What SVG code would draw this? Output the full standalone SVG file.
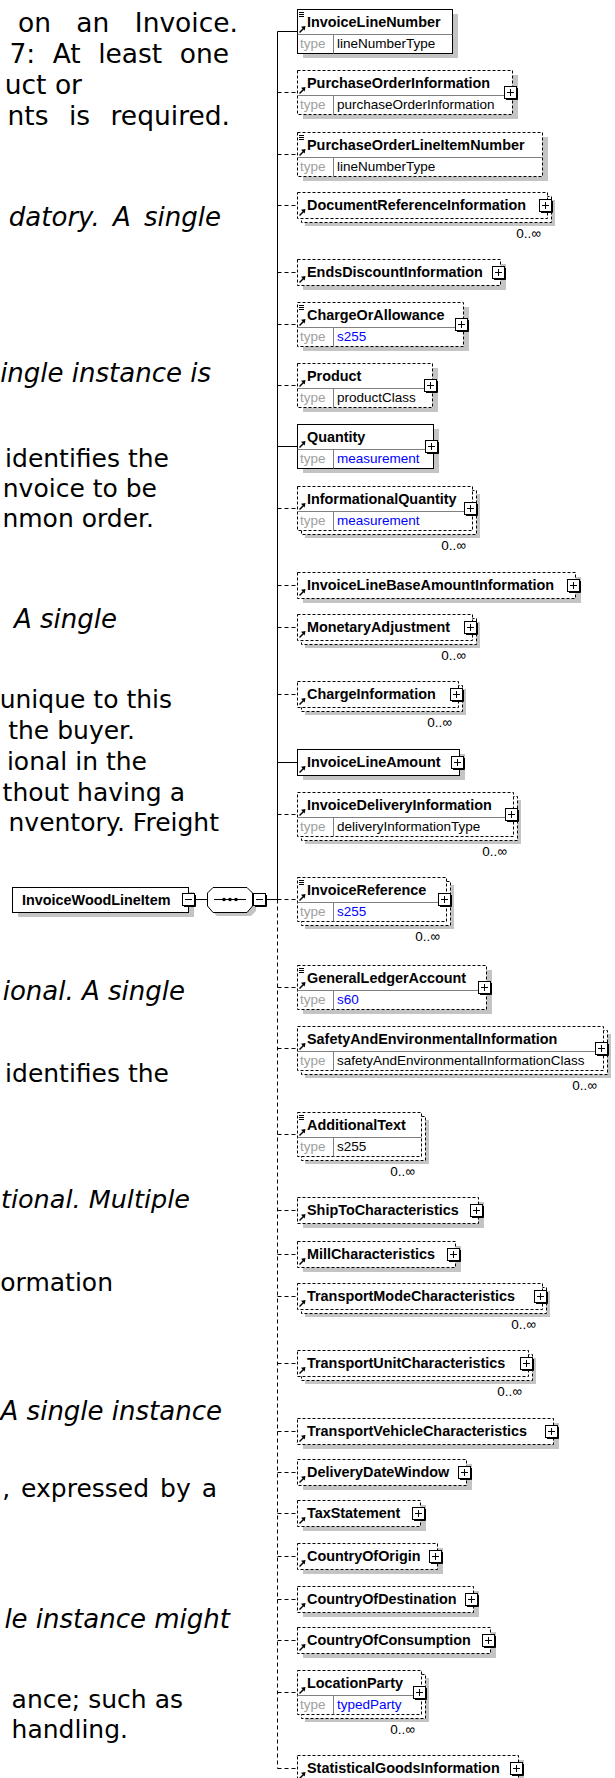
<svg xmlns="http://www.w3.org/2000/svg" width="615" height="1778" viewBox="0 0 615 1778">
<style>
.b{fill:#fff;stroke:#000;stroke-width:1}
.d{stroke-dasharray:3,2}
.sh{fill:#c4c4c4}
.sp{fill:none;stroke:#808080;stroke-width:1}
.nm{font-family:"Liberation Sans",Arial,sans-serif;font-weight:bold;font-size:14.4px;fill:#000}
.tl{font-family:"Liberation Sans",Arial,sans-serif;font-size:13.5px;fill:#a0a0a0}
.tv{font-family:"Liberation Sans",Arial,sans-serif;font-size:13.5px;fill:#000}
.tb{fill:#0000ff}
.oc{font-family:"Liberation Sans",Arial,sans-serif;font-size:13.5px;fill:#000;text-anchor:end}
.dt{font-family:"DejaVu Sans",Verdana,sans-serif;font-size:25px;fill:#000;text-anchor:end}
.big{font-size:26.5px}
.it{font-style:italic;font-size:26px}
.cs{fill:none;stroke:#000;stroke-width:1}
.cd{fill:none;stroke:#000;stroke-width:1;stroke-dasharray:4,3}
</style>
<defs>
<g id="arr"><path d="M0.5,6.5L5,2" stroke="#000" stroke-width="1.5"/><path d="M6.5,0L2,0.8L5.7,4.5Z" fill="#000"/></g>
<g id="eq"><path d="M0,0.5H5M0,2.5H5M0,4.5H5" stroke="#000" stroke-width="1"/></g>
<g id="plus"><path d="M2,13.5H13.5V2" fill="none" stroke="#000"/><rect x="0.5" y="0.5" width="12" height="12" fill="#fff" stroke="#000"/><path d="M3,6.5H10M6.5,3V10" stroke="#000"/></g>
<g id="minus"><path d="M2,13.5H13.5V2" fill="none" stroke="#000"/><rect x="0.5" y="0.5" width="12" height="12" fill="#fff" stroke="#000"/><path d="M3,6.5H10" stroke="#000"/></g>
</defs>
<rect width="615" height="1778" fill="#fff"/>

<g id="text">
<text class="dt big" x="238" y="32" word-spacing="17">on an Invoice.</text>
<text class="dt big" x="229" y="63" word-spacing="9">7: At least one</text>
<text class="dt big" x="82" y="94">uct or</text>
<text class="dt big" x="230" y="125" word-spacing="12">nts is required.</text>
<text class="dt it" x="221" y="226" word-spacing="5">datory. A single</text>
<text class="dt it" x="211" y="382">ingle instance is</text>
<text class="dt" x="169" y="467">identifies the</text>
<text class="dt" x="157" y="497">nvoice to be</text>
<text class="dt" x="154" y="527">nmon order.</text>
<text class="dt it" x="117" y="628">A single</text>
<text class="dt" x="172" y="708">unique to this</text>
<text class="dt" x="135" y="739">the buyer.</text>
<text class="dt" x="147" y="770">ional in the</text>
<text class="dt" x="185" y="801">thout having a</text>
<text class="dt" x="219" y="831">nventory. Freight</text>
<text class="dt it" x="185" y="1000">ional. A single</text>
<text class="dt" x="169" y="1082">identifies the</text>
<text class="dt it" x="190" y="1208" style="font-size:25.5px">tional. Multiple</text>
<text class="dt" x="113" y="1291">ormation</text>
<text class="dt it" x="222" y="1420">A single instance</text>
<text class="dt" x="217" y="1497" word-spacing="3">, expressed by a</text>
<text class="dt it" x="230" y="1628">le instance might</text>
<text class="dt" x="183" y="1708">ance; such as</text>
<text class="dt" x="128" y="1738">handling.</text>
</g>

<g id="connectors">
<path class="cs" d="M277.5,31.5V899.5"/>
<path class="cd" d="M277.5,899.5V1768.5"/>
<path class="cs" d="M277.5,31.5H297M277.5,446.5H297M277.5,762.5H297M195,899.5H207.5M266,899.5H277.5"/>
<path class="cd" d="M277.5,92.5H297M277.5,154.5H297M277.5,205.5H297M277.5,272.5H297M277.5,324.5H297M277.5,385.5H297M277.5,508.5H297M277.5,585.5H297M277.5,627.5H297M277.5,694.5H297M277.5,814.5H297M277.5,899.5H297M277.5,987.5H297M277.5,1048.5H297M277.5,1134.5H297M277.5,1210.5H297M277.5,1254.5H297M277.5,1296.5H297M277.5,1363.5H297M277.5,1431.5H297M277.5,1472.5H297M277.5,1513.5H297M277.5,1556.5H297M277.5,1599.5H297M277.5,1640.5H297M277.5,1692.5H297M277.5,1768.5H297"/>
</g>

<g id="InvoiceWoodLineItem">
<rect class="sh" x="18" y="892" width="176" height="25"/>
<rect class="b" x="12.5" y="887.5" width="176" height="25"/>
<text class="nm" x="22" y="905">InvoiceWoodLineItem</text>
<use href="#minus" x="182" y="893"/>
</g>

<g id="sequence">
<path class="sh" d="M217,891H251L256,896V911L251,916H217L212,911V896Z"/>
<path class="b" d="M213,887.5H247L252.5,893V906L247,912.5H213L207.5,906V893Z"/>
<path d="M214,899.5H246" stroke="#000"/>
<circle cx="224" cy="899.5" r="1.8"/><circle cx="230" cy="899.5" r="1.8"/><circle cx="236" cy="899.5" r="1.8"/>
<use href="#minus" x="253" y="893"/>
</g>

<g id="n1">
<rect class="sh" x="303" y="14" width="155" height="44"/>
<rect class="b" x="297.5" y="9.5" width="155" height="44"/>
<path class="sp" d="M297.5,34.5H452.5M333.5,34.5V53.5"/>
<use href="#eq" x="299" y="12"/><use href="#arr" x="299" y="26"/>
<text class="nm" x="307" y="27">InvoiceLineNumber</text>
<text class="tl" x="300" y="48">type</text><text class="tv" x="337" y="48">lineNumberType</text>
</g>

<g id="n2">
<rect class="sh" x="303" y="75" width="215" height="44"/>
<rect class="b d" x="297.5" y="70.5" width="215" height="44"/>
<path class="sp" d="M297.5,95.5H512.5M333.5,95.5V114.5"/>
<use href="#arr" x="299" y="87"/>
<text class="nm" x="307" y="88">PurchaseOrderInformation</text>
<text class="tl" x="300" y="109">type</text><text class="tv" x="337" y="109">purchaseOrderInformation</text>
<use href="#plus" x="504" y="86"/>
</g>

<g id="n3">
<rect class="sh" x="303" y="137" width="245" height="44"/>
<rect class="b d" x="297.5" y="132.5" width="245" height="44"/>
<path class="sp" d="M297.5,157.5H542.5M333.5,157.5V176.5"/>
<use href="#eq" x="299" y="135"/><use href="#arr" x="299" y="149"/>
<text class="nm" x="307" y="150">PurchaseOrderLineItemNumber</text>
<text class="tl" x="300" y="171">type</text><text class="tv" x="337" y="171">lineNumberType</text>
</g>

<g id="n4">
<rect class="sh" x="305" y="200" width="250" height="26"/>
<rect class="b d" x="301.5" y="196.5" width="250" height="26"/>
<rect class="b d" x="297.5" y="192.5" width="250" height="26"/>
<use href="#arr" x="299" y="209"/>
<text class="nm" x="307" y="210">DocumentReferenceInformation</text>
<use href="#plus" x="539" y="199"/>
<text class="oc" x="541" y="238">0..∞</text>
</g>

<g id="n5">
<rect class="sh" x="303" y="264" width="203" height="26"/>
<rect class="b d" x="297.5" y="259.5" width="203" height="26"/>
<use href="#arr" x="299" y="276"/>
<text class="nm" x="307" y="277">EndsDiscountInformation</text>
<use href="#plus" x="492" y="266"/>
</g>

<g id="n6">
<rect class="sh" x="303" y="307" width="166" height="44"/>
<rect class="b d" x="297.5" y="302.5" width="166" height="44"/>
<path class="sp" d="M297.5,327.5H463.5M333.5,327.5V346.5"/>
<use href="#eq" x="299" y="305"/><use href="#arr" x="299" y="319"/>
<text class="nm" x="307" y="320">ChargeOrAllowance</text>
<text class="tl" x="300" y="341">type</text><text class="tv tb" x="337" y="341">s255</text>
<use href="#plus" x="455" y="318"/>
</g>

<g id="n7">
<rect class="sh" x="303" y="368" width="135" height="44"/>
<rect class="b d" x="297.5" y="363.5" width="135" height="44"/>
<path class="sp" d="M297.5,388.5H432.5M333.5,388.5V407.5"/>
<use href="#arr" x="299" y="380"/>
<text class="nm" x="307" y="381">Product</text>
<text class="tl" x="300" y="402">type</text><text class="tv" x="337" y="402">productClass</text>
<use href="#plus" x="424" y="379"/>
</g>

<g id="n8">
<rect class="sh" x="303" y="429" width="136" height="44"/>
<rect class="b" x="297.5" y="424.5" width="136" height="44"/>
<path class="sp" d="M297.5,449.5H433.5M333.5,449.5V468.5"/>
<use href="#arr" x="299" y="441"/>
<text class="nm" x="307" y="442">Quantity</text>
<text class="tl" x="300" y="463">type</text><text class="tv tb" x="337" y="463">measurement</text>
<use href="#plus" x="425" y="440"/>
</g>

<g id="n9">
<rect class="sh" x="305" y="494" width="175" height="44"/>
<rect class="b d" x="301.5" y="490.5" width="175" height="44"/>
<rect class="b d" x="297.5" y="486.5" width="175" height="44"/>
<path class="sp" d="M297.5,511.5H472.5M333.5,511.5V530.5"/>
<use href="#arr" x="299" y="503"/>
<text class="nm" x="307" y="504">InformationalQuantity</text>
<text class="tl" x="300" y="525">type</text><text class="tv tb" x="337" y="525">measurement</text>
<use href="#plus" x="464" y="502"/>
<text class="oc" x="466" y="550">0..∞</text>
</g>

<g id="n10">
<rect class="sh" x="303" y="577" width="278" height="26"/>
<rect class="b d" x="297.5" y="572.5" width="278" height="26"/>
<use href="#arr" x="299" y="589"/>
<text class="nm" x="307" y="590">InvoiceLineBaseAmountInformation</text>
<use href="#plus" x="567" y="579"/>
</g>

<g id="n11">
<rect class="sh" x="305" y="622" width="175" height="26"/>
<rect class="b d" x="301.5" y="618.5" width="175" height="26"/>
<rect class="b d" x="297.5" y="614.5" width="175" height="26"/>
<use href="#arr" x="299" y="631"/>
<text class="nm" x="307" y="632">MonetaryAdjustment</text>
<use href="#plus" x="464" y="621"/>
<text class="oc" x="466" y="660">0..∞</text>
</g>

<g id="n12">
<rect class="sh" x="305" y="689" width="161" height="26"/>
<rect class="b d" x="301.5" y="685.5" width="161" height="26"/>
<rect class="b d" x="297.5" y="681.5" width="161" height="26"/>
<use href="#arr" x="299" y="698"/>
<text class="nm" x="307" y="699">ChargeInformation</text>
<use href="#plus" x="450" y="688"/>
<text class="oc" x="452" y="727">0..∞</text>
</g>

<g id="n13">
<rect class="sh" x="303" y="754" width="162" height="26"/>
<rect class="b" x="297.5" y="749.5" width="162" height="26"/>
<use href="#arr" x="299" y="766"/>
<text class="nm" x="307" y="767">InvoiceLineAmount</text>
<use href="#plus" x="451" y="756"/>
</g>

<g id="n14">
<rect class="sh" x="305" y="800" width="216" height="44"/>
<rect class="b d" x="301.5" y="796.5" width="216" height="44"/>
<rect class="b d" x="297.5" y="792.5" width="216" height="44"/>
<path class="sp" d="M297.5,817.5H513.5M333.5,817.5V836.5"/>
<use href="#arr" x="299" y="809"/>
<text class="nm" x="307" y="810">InvoiceDeliveryInformation</text>
<text class="tl" x="300" y="831">type</text><text class="tv" x="337" y="831">deliveryInformationType</text>
<use href="#plus" x="505" y="808"/>
<text class="oc" x="507" y="856">0..∞</text>
</g>

<g id="n15">
<rect class="sh" x="305" y="885" width="149" height="44"/>
<rect class="b d" x="301.5" y="881.5" width="149" height="44"/>
<rect class="b d" x="297.5" y="877.5" width="149" height="44"/>
<path class="sp" d="M297.5,902.5H446.5M333.5,902.5V921.5"/>
<use href="#eq" x="299" y="880"/><use href="#arr" x="299" y="894"/>
<text class="nm" x="307" y="895">InvoiceReference</text>
<text class="tl" x="300" y="916">type</text><text class="tv tb" x="337" y="916">s255</text>
<use href="#plus" x="438" y="893"/>
<text class="oc" x="440" y="941">0..∞</text>
</g>

<g id="n16">
<rect class="sh" x="303" y="970" width="189" height="44"/>
<rect class="b d" x="297.5" y="965.5" width="189" height="44"/>
<path class="sp" d="M297.5,990.5H486.5M333.5,990.5V1009.5"/>
<use href="#eq" x="299" y="968"/><use href="#arr" x="299" y="982"/>
<text class="nm" x="307" y="983">GeneralLedgerAccount</text>
<text class="tl" x="300" y="1004">type</text><text class="tv tb" x="337" y="1004">s60</text>
<use href="#plus" x="478" y="981"/>
</g>

<g id="n17">
<rect class="sh" x="305" y="1034" width="306" height="44"/>
<rect class="b d" x="301.5" y="1030.5" width="306" height="44"/>
<rect class="b d" x="297.5" y="1026.5" width="306" height="44"/>
<path class="sp" d="M297.5,1051.5H603.5M333.5,1051.5V1070.5"/>
<use href="#arr" x="299" y="1043"/>
<text class="nm" x="307" y="1044">SafetyAndEnvironmentalInformation</text>
<text class="tl" x="300" y="1065">type</text><text class="tv" x="337" y="1065">safetyAndEnvironmentalInformationClass</text>
<use href="#plus" x="595" y="1042"/>
<text class="oc" x="597" y="1090">0..∞</text>
</g>

<g id="n18">
<rect class="sh" x="305" y="1120" width="124" height="44"/>
<rect class="b d" x="301.5" y="1116.5" width="124" height="44"/>
<rect class="b d" x="297.5" y="1112.5" width="124" height="44"/>
<path class="sp" d="M297.5,1137.5H421.5M333.5,1137.5V1156.5"/>
<use href="#eq" x="299" y="1115"/><use href="#arr" x="299" y="1129"/>
<text class="nm" x="307" y="1130">AdditionalText</text>
<text class="tl" x="300" y="1151">type</text><text class="tv" x="337" y="1151">s255</text>
<text class="oc" x="415" y="1176">0..∞</text>
</g>

<g id="n19">
<rect class="sh" x="303" y="1202" width="181" height="26"/>
<rect class="b d" x="297.5" y="1197.5" width="181" height="26"/>
<use href="#arr" x="299" y="1214"/>
<text class="nm" x="307" y="1215">ShipToCharacteristics</text>
<use href="#plus" x="470" y="1204"/>
</g>

<g id="n20">
<rect class="sh" x="303" y="1246" width="158" height="26"/>
<rect class="b d" x="297.5" y="1241.5" width="158" height="26"/>
<use href="#arr" x="299" y="1258"/>
<text class="nm" x="307" y="1259">MillCharacteristics</text>
<use href="#plus" x="447" y="1248"/>
</g>

<g id="n21">
<rect class="sh" x="305" y="1291" width="245" height="26"/>
<rect class="b d" x="301.5" y="1287.5" width="245" height="26"/>
<rect class="b d" x="297.5" y="1283.5" width="245" height="26"/>
<use href="#arr" x="299" y="1300"/>
<text class="nm" x="307" y="1301">TransportModeCharacteristics</text>
<use href="#plus" x="534" y="1290"/>
<text class="oc" x="536" y="1329">0..∞</text>
</g>

<g id="n22">
<rect class="sh" x="305" y="1358" width="231" height="26"/>
<rect class="b d" x="301.5" y="1354.5" width="231" height="26"/>
<rect class="b d" x="297.5" y="1350.5" width="231" height="26"/>
<use href="#arr" x="299" y="1367"/>
<text class="nm" x="307" y="1368">TransportUnitCharacteristics</text>
<use href="#plus" x="520" y="1357"/>
<text class="oc" x="522" y="1396">0..∞</text>
</g>

<g id="n23">
<rect class="sh" x="303" y="1423" width="256" height="26"/>
<rect class="b d" x="297.5" y="1418.5" width="256" height="26"/>
<use href="#arr" x="299" y="1435"/>
<text class="nm" x="307" y="1436">TransportVehicleCharacteristics</text>
<use href="#plus" x="545" y="1425"/>
</g>

<g id="n24">
<rect class="sh" x="303" y="1464" width="169" height="26"/>
<rect class="b d" x="297.5" y="1459.5" width="169" height="26"/>
<use href="#arr" x="299" y="1476"/>
<text class="nm" x="307" y="1477">DeliveryDateWindow</text>
<use href="#plus" x="458" y="1466"/>
</g>

<g id="n25">
<rect class="sh" x="303" y="1505" width="123" height="26"/>
<rect class="b d" x="297.5" y="1500.5" width="123" height="26"/>
<use href="#arr" x="299" y="1517"/>
<text class="nm" x="307" y="1518">TaxStatement</text>
<use href="#plus" x="412" y="1507"/>
</g>

<g id="n26">
<rect class="sh" x="303" y="1548" width="140" height="26"/>
<rect class="b d" x="297.5" y="1543.5" width="140" height="26"/>
<use href="#arr" x="299" y="1560"/>
<text class="nm" x="307" y="1561">CountryOfOrigin</text>
<use href="#plus" x="429" y="1550"/>
</g>

<g id="n27">
<rect class="sh" x="303" y="1591" width="176" height="26"/>
<rect class="b d" x="297.5" y="1586.5" width="176" height="26"/>
<use href="#arr" x="299" y="1603"/>
<text class="nm" x="307" y="1604">CountryOfDestination</text>
<use href="#plus" x="465" y="1593"/>
</g>

<g id="n28">
<rect class="sh" x="303" y="1632" width="193" height="26"/>
<rect class="b d" x="297.5" y="1627.5" width="193" height="26"/>
<use href="#arr" x="299" y="1644"/>
<text class="nm" x="307" y="1645">CountryOfConsumption</text>
<use href="#plus" x="482" y="1634"/>
</g>

<g id="n29">
<rect class="sh" x="305" y="1678" width="124" height="44"/>
<rect class="b d" x="301.5" y="1674.5" width="124" height="44"/>
<rect class="b d" x="297.5" y="1670.5" width="124" height="44"/>
<path class="sp" d="M297.5,1695.5H421.5M333.5,1695.5V1714.5"/>
<use href="#arr" x="299" y="1687"/>
<text class="nm" x="307" y="1688">LocationParty</text>
<text class="tl" x="300" y="1709">type</text><text class="tv tb" x="337" y="1709">typedParty</text>
<use href="#plus" x="413" y="1686"/>
<text class="oc" x="415" y="1734">0..∞</text>
</g>

<g id="n30">
<rect class="sh" x="303" y="1760" width="221" height="26"/>
<rect class="b d" x="297.5" y="1755.5" width="221" height="26"/>
<use href="#arr" x="299" y="1772"/>
<text class="nm" x="307" y="1773">StatisticalGoodsInformation</text>
<use href="#plus" x="510" y="1762"/>
</g>
</svg>
